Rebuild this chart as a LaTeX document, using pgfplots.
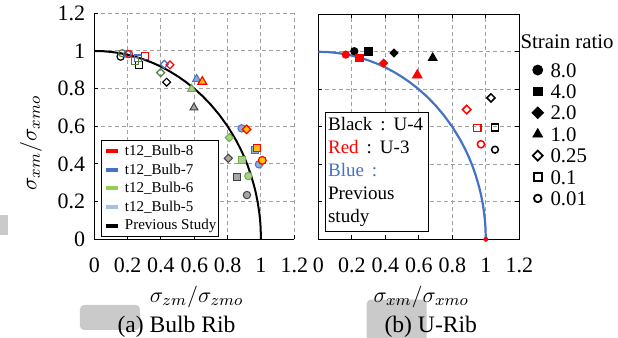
\documentclass[border=0pt]{standalone}
\usepackage{pgfplots}
\pgfplotsset{compat=1.18}
\usepackage{fontspec}
\setmainfont{Liberation Serif}
\definecolor{cRed}{HTML}{FF0000}
\definecolor{cOrange}{HTML}{FFC000}
\definecolor{cBlue}{HTML}{4472C4}
\definecolor{cLBlue}{HTML}{8FAADC}
\definecolor{cLegLBlue}{HTML}{9DC3E6}
\definecolor{cGreen}{HTML}{70AD47}
\definecolor{cLGreen}{HTML}{A9D18E}
\definecolor{cLegGreen}{HTML}{92D050}
\definecolor{cDGreen}{HTML}{548235}
\definecolor{cGrey}{HTML}{A6A6A6}
\definecolor{cDGrey}{HTML}{404040}
\definecolor{cGridC}{HTML}{A0A0A0}
\definecolor{cWM}{HTML}{CACACA}
\pgfplotsset{
  common/.style={
    scale only axis, clip=false,
    xmin=0, xmax=1.2, ymin=0, ymax=1.2,
    xtick={0,0.2,0.4,0.6,0.8,1,1.2},
    ytick={0,0.2,0.4,0.6,0.8,1,1.2},
    grid=major,
    grid style={cGridC, line width=0.5pt, dash pattern=on 2pt off 1.5pt},
    tick align=inside, major tick length=2pt,
    tick style={black, line width=0.5pt},
    axis line style={black, line width=0.7pt},
    /pgf/number format/assume math mode=true,
    ticklabel style={font=\fontsize{11}{13}\selectfont},
    xticklabel style={yshift=-6pt},
    yticklabel style={xshift=-1pt},
    label style={font=\fontsize{11}{13}\selectfont},
    xlabel style={at={(axis description cs:0.512,-0.255)}, anchor=center},
  },
  sl/.style={legend image code/.code={\draw[mark repeat=2,mark phase=2,##1] plot coordinates {(0pt,0pt) (3pt,0pt) (6pt,0pt)};}},
  dia/.style={mark=square*, mark options={rotate=45}},
  odia/.style={mark=square, mark options={rotate=45}},
}
\begin{document}
\begin{tikzpicture}
\useasboundingbox (-47.15pt,-49.35pt) rectangle (261.85pt,119.65pt);
\fill[cWM, rounded corners=2pt] (-7.15pt,-32.85pt) rectangle (22.85pt,-45.35pt);
\fill[cWM, rounded corners=2pt] (136.2pt,-30.15pt) rectangle (166.2pt,-51pt);
\fill[cWM] (-48pt,12pt) rectangle (-43pt,2pt);

% ---------------- (a) Bulb Rib ----------------
\begin{axis}[common, at={(0pt,0pt)}, anchor=south west,
  width=100pt, height=113pt,
  axis x line*=bottom, axis y line*=left,
  xlabel={$\sigma_{zm}/\sigma_{zmo}$},
  ylabel={$\sigma_{xm}/\sigma_{xmo}$},
  ylabel style={at={(axis description cs:-0.3165,0.426)}, anchor=center},
  legend cell align=left,
  legend image code/.code={\draw[#1, line width=2pt] (0pt,0pt) -- (6pt,0pt);},
  legend style={at={(axis description cs:0.0335,0.0102)}, anchor=south west,
    draw=black, line width=0.6pt, font=\fontsize{7.5}{9}\selectfont,
    inner xsep=1.2pt, inner ysep=1.5pt, row sep=1.6pt, column sep=2.5pt,
    nodes={inner sep=0pt, text height=6pt, text depth=1.7pt}},
]
\addplot[black, line width=1pt, forget plot] coordinates {
(0,1) (0.05,0.999) (0.1,0.995) (0.15,0.989) (0.2,0.980) (0.25,0.968) (0.3,0.954)
(0.35,0.937) (0.4,0.917) (0.45,0.893) (0.5,0.866) (0.55,0.835) (0.6,0.800)
(0.65,0.760) (0.7,0.714) (0.75,0.661) (0.8,0.600) (0.85,0.527) (0.88,0.475)
(0.9,0.436) (0.92,0.392) (0.94,0.341) (0.96,0.280) (0.97,0.243) (0.98,0.199)
(0.99,0.141) (0.995,0.100) (0.998,0.063) (1,0)};
% grey / black group
\addplot[forget plot, only marks, mark=*, mark size=1.85pt, draw=cDGrey, fill=cGrey, line width=0.5pt] coordinates {(0.916,0.235)};
\addplot[forget plot, only marks, mark=square*, mark size=1.7pt, draw=cDGrey, fill=cGrey, line width=0.5pt] coordinates {(0.858,0.329)};
\addplot[forget plot, only marks, dia, mark size=1.45pt, draw=cDGrey, fill=cGrey, line width=0.5pt] coordinates {(0.804,0.430)};
\addplot[forget plot, only marks, mark=triangle*, mark size=2.3pt, draw=cDGrey, fill=cGrey, line width=0.5pt] coordinates {(0.598,0.699)};
\addplot[forget plot, only marks, mark=o, mark size=1.8pt, draw=black, line width=0.6pt] coordinates {(0.158,0.970)};
\addplot[forget plot, only marks, mark=square, mark size=1.7pt, draw=black, line width=0.6pt] coordinates {(0.27,0.926)};
\addplot[forget plot, only marks, odia, mark size=1.4pt, draw=black, line width=0.6pt] coordinates {(0.434,0.834)};
% green group
\addplot[forget plot, only marks, mark=*, mark size=1.85pt, draw=cGreen, fill=cLGreen, line width=0.5pt] coordinates {(0.924,0.336)};
\addplot[forget plot, only marks, mark=square*, mark size=1.7pt, draw=cGreen, fill=cLGreen, line width=0.5pt] coordinates {(0.884,0.421)};
\addplot[forget plot, only marks, dia, mark size=1.45pt, draw=cGreen, fill=cLGreen, line width=0.5pt] coordinates {(0.81,0.54)};
\addplot[forget plot, only marks, mark=triangle*, mark size=2.3pt, draw=cGreen, fill=cLGreen, line width=0.5pt] coordinates {(0.584,0.798)};
\addplot[forget plot, only marks, mark=o, mark size=1.8pt, draw=cDGreen, line width=0.6pt] coordinates {(0.168,0.988)};
\addplot[forget plot, only marks, mark=square, mark size=1.7pt, draw=cDGreen, line width=0.6pt] coordinates {(0.244,0.948)};
\addplot[forget plot, only marks, odia, mark size=1.4pt, draw=cDGreen, line width=0.6pt] coordinates {(0.398,0.885)};
% blue group
\addplot[forget plot, only marks, mark=*, mark size=1.85pt, draw=cBlue, fill=cLBlue, line width=0.5pt] coordinates {(0.988,0.398) (0.884,0.589)};
\addplot[forget plot, only marks, mark=square*, mark size=1.7pt, draw=cBlue, fill=cLBlue, line width=0.5pt] coordinates {(0.964,0.474)};
\addplot[forget plot, only marks, mark=triangle*, mark size=2.3pt, draw=cBlue, fill=cLBlue, line width=0.5pt] coordinates {(0.614,0.851)};
\addplot[forget plot, only marks, mark=o, mark size=1.8pt, draw=cBlue, line width=0.6pt] coordinates {(0.198,0.984)};
\addplot[forget plot, only marks, mark=square, mark size=1.7pt, draw=cBlue, line width=0.6pt] coordinates {(0.264,0.961)};
\addplot[forget plot, only marks, odia, mark size=1.4pt, draw=cBlue, line width=0.6pt] coordinates {(0.42,0.929)};
% red / orange group
\addplot[forget plot, only marks, mark=*, mark size=1.95pt, draw=cRed, fill=cOrange, line width=0.6pt] coordinates {(1.008,0.419)};
\addplot[forget plot, only marks, mark=square*, mark size=1.75pt, draw=cRed, fill=cOrange, line width=0.6pt] coordinates {(0.978,0.483)};
\addplot[forget plot, only marks, dia, mark size=1.5pt, draw=cRed, fill=cOrange, line width=0.6pt] coordinates {(0.914,0.584)};
\addplot[forget plot, only marks, mark=triangle*, mark size=2.5pt, draw=cRed, fill=cOrange, line width=0.6pt] coordinates {(0.648,0.837)};
\addplot[forget plot, only marks, mark=o, mark size=1.8pt, draw=cRed, line width=0.6pt] coordinates {(0.208,0.984)};
\addplot[forget plot, only marks, mark=square, mark size=1.8pt, draw=cRed, line width=0.6pt] coordinates {(0.304,0.973)};
\addplot[forget plot, only marks, odia, mark size=1.4pt, draw=cRed, line width=0.6pt] coordinates {(0.454,0.926)};
\addlegendimage{cRed}\addlegendentry{t12\_Bulb-8}
\addlegendimage{cBlue}\addlegendentry{t12\_Bulb-7}
\addlegendimage{cLegGreen}\addlegendentry{t12\_Bulb-6}
\addlegendimage{cLegLBlue}\addlegendentry{t12\_Bulb-5}
\addlegendimage{black}\addlegendentry{Previous Study}
\end{axis}

% ---------------- (b) U-Rib ----------------
\begin{axis}[common, at={(112pt,0pt)}, anchor=south west,
  width=100.5pt, height=112.5pt,
  yticklabels={},
  xlabel={$\sigma_{xm}/\sigma_{xmo}$},
  legend cell align=left,
  legend style={at={(axis description cs:1.06,0.911)}, anchor=north west,
    draw=none, fill=none, inner sep=0pt, font=\fontsize{10.4}{12}\selectfont,
    row sep=3.7pt, column sep=3.5pt,
    nodes={inner sep=0pt, text height=7pt, text depth=0pt}},
]
\addplot[cBlue, line width=1.1pt, forget plot] coordinates {
(0,1) (0.05,0.999) (0.1,0.995) (0.15,0.989) (0.2,0.980) (0.25,0.968) (0.3,0.954)
(0.35,0.937) (0.4,0.917) (0.45,0.893) (0.5,0.866) (0.55,0.835) (0.6,0.800)
(0.65,0.760) (0.7,0.714) (0.75,0.661) (0.8,0.600) (0.85,0.527) (0.88,0.475)
(0.9,0.436) (0.92,0.392) (0.94,0.341) (0.96,0.280) (0.97,0.243) (0.98,0.199)
(0.99,0.141) (0.995,0.100) (0.998,0.063) (1,0)};
\addplot[forget plot, only marks, mark=*, mark size=1pt, cRed] coordinates {(1,0)};
% black U-4
\addplot[forget plot, only marks, mark=*, mark size=1.85pt, black] coordinates {(0.215,1.003)};
\addplot[forget plot, only marks, mark=square*, mark size=1.85pt, black] coordinates {(0.299,1.003)};
\addplot[forget plot, only marks, dia, mark size=1.45pt, black] coordinates {(0.452,0.994)};
\addplot[forget plot, only marks, mark=triangle*, mark size=2.6pt, black] coordinates {(0.683,0.967)};
\addplot[forget plot, only marks, odia, mark size=1.45pt, black, line width=0.75pt] coordinates {(1.031,0.754)};
\addplot[forget plot, only marks, mark=square, mark size=1.7pt, black, line width=0.75pt] coordinates {(1.055,0.596)};
\addplot[forget plot, only marks, mark=o, mark size=1.7pt, black, line width=0.75pt] coordinates {(1.055,0.478)};
% red U-3
\addplot[forget plot, only marks, mark=*, mark size=1.85pt, cRed] coordinates {(0.164,0.985)};
\addplot[forget plot, only marks, mark=square*, mark size=1.85pt, cRed] coordinates {(0.245,0.967)};
\addplot[forget plot, only marks, dia, mark size=1.45pt, cRed] coordinates {(0.39,0.94)};
\addplot[forget plot, only marks, mark=triangle*, mark size=2.8pt, cRed] coordinates {(0.591,0.875)};
\addplot[forget plot, only marks, odia, mark size=1.5pt, cRed, line width=0.75pt] coordinates {(0.886,0.692)};
\addplot[forget plot, only marks, mark=square, mark size=1.8pt, cRed, line width=0.75pt] coordinates {(0.949,0.594)};
\addplot[forget plot, only marks, mark=o, mark size=1.8pt, cRed, line width=0.75pt] coordinates {(0.971,0.507)};
% strain ratio legend
\addlegendimage{empty legend}\addlegendentry[text depth=3.45pt]{\hspace*{-15pt}Strain ratio}
\addlegendimage{only marks, mark=*, mark size=2.5pt, black, sl}\addlegendentry{8.0}
\addlegendimage{only marks, mark=square*, mark size=2.2pt, black, sl}\addlegendentry{4.0}
\addlegendimage{only marks, dia, mark size=2.05pt, black, sl}\addlegendentry{2.0}
\addlegendimage{only marks, mark=triangle*, mark size=2.8pt, black, sl}\addlegendentry{1.0}
\addlegendimage{only marks, odia, mark size=1.75pt, black, line width=0.9pt, sl}\addlegendentry{0.25}
\addlegendimage{only marks, mark=square, mark size=1.95pt, black, line width=0.9pt, sl}\addlegendentry{0.1}
\addlegendimage{only marks, mark=o, mark size=1.9pt, black, line width=0.9pt, sl}\addlegendentry{0.01}
\node[draw=black, line width=0.6pt, fill=white, anchor=south west, align=left,
  inner xsep=1.25pt, inner ysep=2.5pt, text width=49pt,
  font=\fontsize{9.5}{11.5}\selectfont] at (axis description cs:0.0333,0.031)
  {Black\hspace{4pt}:\hspace{4pt}U-4\\
   \textcolor{cRed}{Red}\hspace{4pt}:\hspace{4pt}U-3\\
   \textcolor{cBlue}{Blue\hspace{4pt}:}\\
   Previous\\
   study};
\end{axis}

\node[font=\fontsize{11.8}{14}\selectfont, anchor=base, inner sep=0pt] at (41.1pt,-46.7pt) {(a) Bulb Rib};
\node[font=\fontsize{11.8}{14}\selectfont, anchor=base, inner sep=0pt] at (168.25pt,-46.7pt) {(b) U-Rib};
\end{tikzpicture}
\end{document}
